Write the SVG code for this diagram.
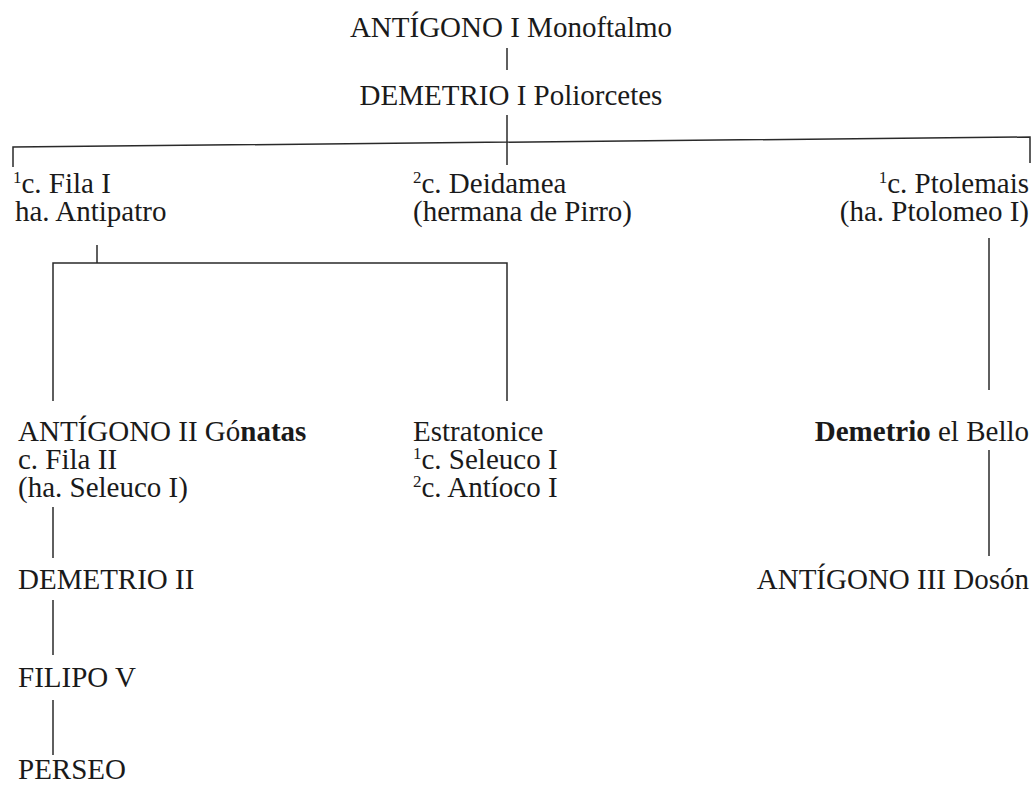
<svg xmlns="http://www.w3.org/2000/svg" width="1035" height="787" viewBox="0 0 1035 787">
<style>
text{font-family:"Liberation Serif","Times New Roman",serif;font-size:29px;fill:#1a1a1a}
.m{text-anchor:middle}
.e{text-anchor:end}
.sup{font-size:17px}
.b{font-weight:bold}
#connectors line,#connectors polyline{stroke:#2a2a2a;stroke-width:1.5;fill:none}
</style>
<rect width="1035" height="787" fill="#ffffff"/>
<g id="connectors">
<line x1="507" y1="48" x2="507" y2="70"/>
<line x1="507" y1="115" x2="507" y2="165"/>
<polyline points="13,167 13,147 1030,137 1030,163"/>
<line x1="97" y1="245" x2="97" y2="263"/>
<polyline points="53,401 53,263 507,263 507,401"/>
<line x1="989" y1="238" x2="989" y2="390"/>
<line x1="989" y1="450" x2="989" y2="556"/>
<line x1="53" y1="507" x2="53" y2="558"/>
<line x1="53" y1="600" x2="53" y2="655"/>
<line x1="53" y1="700" x2="53" y2="755"/>
</g>
<g id="antigono1"><text class="m" x="511" y="37">ANTÍGONO I Monoftalmo</text></g>
<g id="demetrio1"><text class="m" x="511" y="105">DEMETRIO I Poliorcetes</text></g>
<g id="fila1">
<text x="13" y="183"><tspan class="sup">1</tspan><tspan dy="10">c. Fila I</tspan><tspan x="15" dy="28">ha. Antipatro</tspan></text>
</g>
<g id="deidamea">
<text x="413" y="183"><tspan class="sup">2</tspan><tspan dy="10">c. Deidamea</tspan><tspan x="413" dy="28">(hermana de Pirro)</tspan></text>
</g>
<g id="ptolemais">
<text class="e" x="1029" y="183"><tspan class="sup">1</tspan><tspan dy="10">c. Ptolemais</tspan><tspan x="1029" dy="28">(ha. Ptolomeo I)</tspan></text>
</g>
<g id="antigono2">
<text x="18" y="441">ANTÍGONO II Gó<tspan class="b">natas</tspan><tspan x="18" dy="28">c. Fila II</tspan><tspan x="18" dy="28">(ha. Seleuco I)</tspan></text>
</g>
<g id="estratonice">
<text x="413" y="441">Estratonice<tspan class="sup" x="413" dy="18">1</tspan><tspan dy="10">c. Seleuco I</tspan><tspan class="sup" x="413" dy="18">2</tspan><tspan dy="10">c. Antíoco I</tspan></text>
</g>
<g id="demetrio-bello"><text class="e" x="1029" y="441"><tspan class="b">Demetrio</tspan> el Bello</text></g>
<g id="demetrio2"><text x="18" y="589">DEMETRIO II</text></g>
<g id="antigono3"><text class="e" x="1029" y="589">ANTÍGONO III Dosón</text></g>
<g id="filipo5"><text x="18" y="687">FILIPO V</text></g>
<g id="perseo"><text x="18" y="779">PERSEO</text></g>
</svg>
